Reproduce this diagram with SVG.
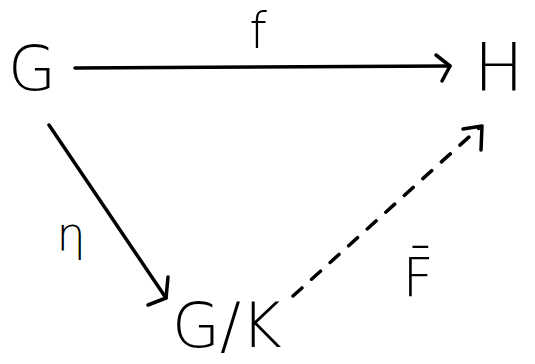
<svg xmlns="http://www.w3.org/2000/svg" width="535" height="364" viewBox="0 0 535 364">
<style>
.lbl{font-family:"DejaVu Sans","Liberation Sans",sans-serif;fill:#000;font-weight:200}
.edge{stroke:#000;stroke-width:3.5;fill:none;stroke-linecap:round;stroke-linejoin:round}
.dash{stroke-dasharray:12 13}
</style>
<rect width="535" height="364" fill="#fff"/>
<g id="node-G"><text class="lbl" x="8" y="90" font-size="62">G</text></g>
<g id="node-H"><text class="lbl" x="474" y="90" font-size="66">H</text></g>
<g id="node-GK"><text class="lbl" x="172" y="347" font-size="62">G/K</text></g>
<g id="connectors">
  <g id="edge-f">
    <path class="edge" d="M75 68 L450 66"/>
    <path class="edge" d="M436 55 L450 66 L442 81"/>
    <text class="lbl" x="258" y="48" font-size="50" text-anchor="middle">f</text>
  </g>
  <g id="edge-eta">
    <path class="edge" d="M49 125 L166 298"/>
    <path class="edge" d="M168 277 L166 298 L148 305"/>
    <text class="lbl" x="71" y="250" font-size="46" text-anchor="middle">η</text>
  </g>
  <g id="edge-Fbar">
    <path class="edge dash" d="M293 296 L480 127"/>
    <path class="edge" d="M463 129 L482 126 L481 150"/>
    <text class="lbl" x="418" y="296" font-size="54" text-anchor="middle">F̄</text>
  </g>
</g>
</svg>
